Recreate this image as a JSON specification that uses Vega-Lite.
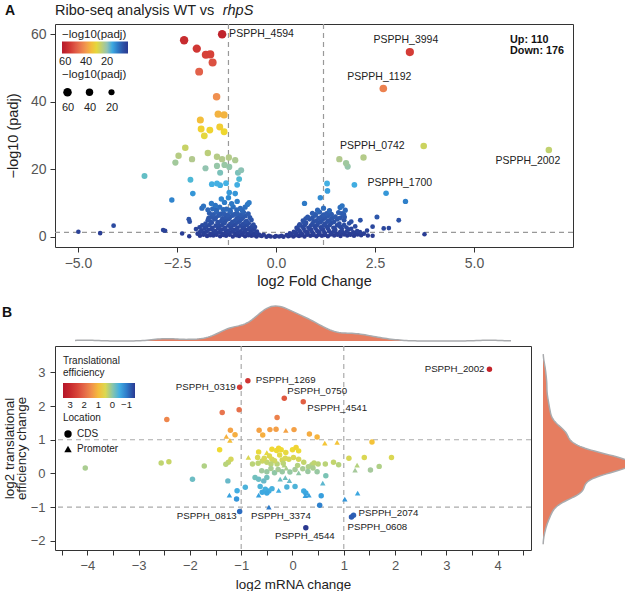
{
"$schema":"https://vega.github.io/schema/vega-lite/v6.json",
"padding":{"left":1,"top":2,"right":0,"bottom":0},
"config":{"font":"Liberation Sans","view":{"stroke":"#333333","strokeWidth":1},
"axis":{"grid":false,"domain":false,"tickColor":"#333333","tickSize":5,"labelColor":"#555555","titleColor":"#222222","titleFontWeight":"normal","labelPadding":3,"labelFont":"Liberation Sans","titleFont":"Liberation Sans"},
"legend":{"padding":0,"titleFontWeight":"normal","titleColor":"#222222","labelColor":"#222222","symbolBaseFillColor":"black","gradientStrokeWidth":0},
"style":{"guide-label":{"lineHeight":31}},
"title":{"font":"Liberation Sans","color":"#222222"}},
"resolve":{"scale":{"color":"independent","size":"independent","shape":"independent"},"legend":{"color":"independent","size":"independent","shape":"independent"}},
"datasets":{
"volcano":[
{"fc":-1.36,"p":60.0,"lab":"PSPPH_4594"},{"fc":3.38,"p":54.7,"lab":"PSPPH_3994"},{"fc":2.71,"p":43.9,"lab":"PSPPH_1192"},{"fc":3.73,"p":26.9,"lab":"PSPPH_0742"},{"fc":6.89,"p":25.7,"lab":"PSPPH_2002"},{"fc":1.98,"p":15.4,"lab":"PSPPH_1700"},
{"fc":-2.32,"p":58.2},{"fc":-2.0,"p":55.7},{"fc":-1.77,"p":53.9},{"fc":-1.66,"p":54.0},{"fc":-1.6,"p":51.6},{"fc":-1.94,"p":48.9},{"fc":-1.5,"p":41.5},{"fc":-1.46,"p":36.3},{"fc":-1.31,"p":36.1},{"fc":-1.91,"p":34.6},{"fc":-1.89,"p":31.9},{"fc":-1.67,"p":31.6},{"fc":-1.81,"p":29.9},{"fc":-1.42,"p":32.5},{"fc":-1.31,"p":31.1},
{"fc":-2.29,"p":26.4},{"fc":-2.46,"p":24.0},{"fc":-2.54,"p":22.0},{"fc":-2.12,"p":23.0},{"fc":-1.72,"p":24.8},{"fc":-1.49,"p":23.7},{"fc":-1.36,"p":23.0},{"fc":-1.19,"p":23.5},{"fc":-1.03,"p":22.7},{"fc":-1.78,"p":20.3},{"fc":-1.49,"p":21.0},{"fc":-1.3,"p":21.3},{"fc":-1.18,"p":20.7},{"fc":-1.41,"p":19.0},{"fc":-0.96,"p":19.0},{"fc":-0.88,"p":19.7},{"fc":-3.32,"p":18.0},{"fc":-2.16,"p":16.9},{"fc":-1.62,"p":15.6},{"fc":-1.49,"p":15.8},{"fc":-1.41,"p":15.3},{"fc":-1.26,"p":15.9},{"fc":-0.98,"p":15.4},{"fc":-0.93,"p":17.1},{"fc":-2.1,"p":12.8},{"fc":-1.18,"p":13.1},{"fc":-1.03,"p":12.8},{"fc":-2.63,"p":10.9},
{"fc":1.6,"p":23.0},{"fc":1.77,"p":21.8},{"fc":1.81,"p":20.8},{"fc":2.21,"p":23.5},{"fc":1.29,"p":15.8},{"fc":1.3,"p":13.6},{"fc":2.78,"p":12.9},{"fc":3.27,"p":10.5},{"fc":1.12,"p":11.6},{"fc":3.75,"p":0.8},
{"fc":-4.99,"p":1.5},{"fc":-4.44,"p":1.1},{"fc":-4.1,"p":3.3},{"fc":-2.85,"p":2.0},{"fc":-2.8,"p":1.8},{"fc":-2.37,"p":1.0},{"fc":-2.19,"p":0.2},{"fc":-2.2,"p":5.2},{"fc":-2.18,"p":4.5},{"fc":-2.02,"p":2.3},
{"fc":1.71,"p":6.7},{"fc":1.9,"p":4.5},{"fc":2.13,"p":4.9},{"fc":2.55,"p":5.9},{"fc":2.44,"p":3.0},{"fc":2.72,"p":2.5},{"fc":2.85,"p":2.6},{"fc":3.1,"p":4.9},{"fc":2.44,"p":0.3},{"fc":1.73,"p":5.9},{"fc":1.67,"p":6.9},
{"fc":-1.92,"p":0.35},{"fc":-1.74,"p":0.22},{"fc":-1.58,"p":0.41},{"fc":-1.41,"p":0.18},{"fc":-1.26,"p":0.33},{"fc":-1.09,"p":0.12},{"fc":-0.93,"p":0.28},{"fc":-0.78,"p":0.15},{"fc":-0.62,"p":0.31},{"fc":-0.49,"p":0.1},{"fc":-0.36,"p":0.22},{"fc":-0.24,"p":0.05},{"fc":-0.13,"p":0.14},{"fc":-0.03,"p":0.03},{"fc":0.08,"p":0.12},{"fc":0.19,"p":0.06},{"fc":0.31,"p":0.2},{"fc":0.44,"p":0.09},{"fc":0.58,"p":0.26},{"fc":0.72,"p":0.14},{"fc":0.87,"p":0.3},{"fc":1.02,"p":0.18},{"fc":1.16,"p":0.36},{"fc":1.31,"p":0.21},{"fc":1.47,"p":0.4},{"fc":1.63,"p":0.25},{"fc":1.8,"p":0.43},{"fc":1.97,"p":0.3},{"fc":2.15,"p":0.45},{"fc":2.32,"p":0.38},
{"fc":-1.83,"p":0.6},{"fc":-1.66,"p":0.5},{"fc":-1.5,"p":0.65},{"fc":-1.33,"p":0.55},{"fc":-1.17,"p":0.62},{"fc":-1.0,"p":0.5},{"fc":-0.85,"p":0.6},{"fc":-0.7,"p":0.45},{"fc":-0.55,"p":0.5},{"fc":-0.4,"p":0.38},{"fc":-0.18,"p":0.3},{"fc":0.0,"p":0.25},{"fc":0.14,"p":0.3},{"fc":0.36,"p":0.4},{"fc":0.5,"p":0.5},{"fc":0.64,"p":0.45},{"fc":0.79,"p":0.6},{"fc":0.94,"p":0.52},{"fc":1.08,"p":0.65},{"fc":1.23,"p":0.55},{"fc":1.38,"p":0.7},{"fc":1.55,"p":0.6},{"fc":1.72,"p":0.72},{"fc":1.88,"p":0.6},{"fc":2.06,"p":0.7},
{"fc":-1.98,"p":0.95},{"fc":-1.82,"p":1.1},{"fc":-1.66,"p":0.85},{"fc":-1.5,"p":1.15},{"fc":-1.35,"p":0.9},{"fc":-1.19,"p":1.2},{"fc":-1.03,"p":0.88},{"fc":-0.87,"p":1.05},{"fc":-0.72,"p":0.82},{"fc":-0.57,"p":1.0},{"fc":-0.43,"p":0.7},{"fc":-0.31,"p":0.6},{"fc":0.27,"p":0.55},{"fc":0.38,"p":0.75},{"fc":0.52,"p":0.95},{"fc":0.66,"p":0.8},{"fc":0.8,"p":1.1},{"fc":0.95,"p":0.85},{"fc":1.1,"p":1.15},{"fc":1.24,"p":0.9},{"fc":1.39,"p":1.2},{"fc":1.54,"p":0.92},{"fc":1.7,"p":1.12},{"fc":1.86,"p":0.88},{"fc":2.02,"p":1.05},{"fc":2.22,"p":0.95},
{"fc":-1.92,"p":1.4},{"fc":-1.75,"p":1.5},{"fc":-1.58,"p":1.3},{"fc":-1.42,"p":1.45},{"fc":-1.27,"p":1.35},{"fc":-1.11,"p":1.5},{"fc":-0.96,"p":1.3},{"fc":-0.8,"p":1.45},{"fc":-0.65,"p":1.3},{"fc":-0.5,"p":1.2},{"fc":0.35,"p":1.05},{"fc":0.48,"p":1.25},{"fc":0.62,"p":1.35},{"fc":0.77,"p":1.4},{"fc":0.92,"p":1.3},{"fc":1.07,"p":1.45},{"fc":1.22,"p":1.35},{"fc":1.46,"p":1.5},{"fc":1.62,"p":1.4},{"fc":1.78,"p":1.5},{"fc":1.95,"p":1.35},{"fc":2.12,"p":1.4},
{"fc":-1.88,"p":1.9},{"fc":-1.7,"p":2.1},{"fc":-1.53,"p":1.7},{"fc":-1.37,"p":2.15},{"fc":-1.21,"p":1.8},{"fc":-1.05,"p":2.05},{"fc":-0.9,"p":1.65},{"fc":-0.76,"p":2.0},{"fc":-0.62,"p":1.75},{"fc":-0.48,"p":1.55},{"fc":0.45,"p":1.5},{"fc":0.59,"p":1.85},{"fc":0.74,"p":1.6},{"fc":0.89,"p":2.05},{"fc":1.04,"p":1.75},{"fc":1.19,"p":2.1},{"fc":1.34,"p":1.7},{"fc":1.5,"p":2.0},{"fc":1.66,"p":1.78},{"fc":1.83,"p":2.15},{"fc":2.05,"p":1.7},{"fc":2.3,"p":1.85},
{"fc":-1.8,"p":2.45},{"fc":-1.62,"p":2.3},{"fc":-1.46,"p":2.5},{"fc":-1.3,"p":2.35},{"fc":-1.14,"p":2.5},{"fc":-0.98,"p":2.3},{"fc":-0.84,"p":2.45},{"fc":-0.69,"p":2.3},{"fc":-0.56,"p":2.2},{"fc":0.55,"p":2.2},{"fc":0.7,"p":2.4},{"fc":0.85,"p":2.3},{"fc":1.0,"p":2.45},{"fc":1.15,"p":2.3},{"fc":1.31,"p":2.5},{"fc":1.48,"p":2.35},{"fc":1.66,"p":2.45},{"fc":1.9,"p":2.4},
{"fc":-1.93,"p":2.8},{"fc":-1.76,"p":3.1},{"fc":-1.6,"p":2.7},{"fc":-1.44,"p":3.05},{"fc":-1.28,"p":2.65},{"fc":-1.12,"p":3.15},{"fc":-0.97,"p":2.75},{"fc":-0.81,"p":3.0},{"fc":-0.66,"p":2.6},{"fc":-0.53,"p":2.9},{"fc":0.52,"p":2.65},{"fc":0.67,"p":3.0},{"fc":0.82,"p":2.7},{"fc":0.98,"p":3.1},{"fc":1.13,"p":2.8},{"fc":1.28,"p":3.05},{"fc":1.45,"p":2.7},{"fc":1.62,"p":3.0},{"fc":1.78,"p":2.75},{"fc":2.0,"p":3.1},
{"fc":-1.86,"p":3.4},{"fc":-1.68,"p":3.5},{"fc":-1.52,"p":3.3},{"fc":-1.36,"p":3.5},{"fc":-1.2,"p":3.35},{"fc":-1.04,"p":3.55},{"fc":-0.89,"p":3.3},{"fc":-0.74,"p":3.45},{"fc":-0.6,"p":3.2},{"fc":0.58,"p":3.3},{"fc":0.73,"p":3.5},{"fc":0.88,"p":3.35},{"fc":1.04,"p":3.5},{"fc":1.2,"p":3.3},{"fc":1.36,"p":3.5},{"fc":1.54,"p":3.4},{"fc":1.72,"p":3.45},
{"fc":-1.78,"p":3.9},{"fc":-1.62,"p":4.2},{"fc":-1.46,"p":3.7},{"fc":-1.3,"p":4.1},{"fc":-1.14,"p":3.8},{"fc":-0.98,"p":4.25},{"fc":-0.83,"p":3.75},{"fc":-0.69,"p":4.0},{"fc":-0.57,"p":3.6},{"fc":0.6,"p":3.7},{"fc":0.76,"p":4.1},{"fc":0.92,"p":3.8},{"fc":1.08,"p":4.2},{"fc":1.24,"p":3.85},{"fc":1.41,"p":4.15},{"fc":1.6,"p":3.9},{"fc":1.85,"p":4.0},
{"fc":-1.65,"p":4.5},{"fc":-1.47,"p":4.35},{"fc":-1.28,"p":4.6},{"fc":-1.1,"p":4.4},{"fc":-0.92,"p":4.55},{"fc":-0.77,"p":4.4},{"fc":0.7,"p":4.4},{"fc":0.95,"p":4.5},{"fc":1.13,"p":4.4},{"fc":1.3,"p":4.55},{"fc":1.47,"p":4.45},
{"fc":-1.72,"p":4.9},{"fc":-1.55,"p":5.2},{"fc":-1.38,"p":4.7},{"fc":-1.2,"p":5.25},{"fc":-1.03,"p":4.8},{"fc":-0.88,"p":5.15},{"fc":-0.74,"p":4.65},{"fc":-0.62,"p":5.0},{"fc":0.68,"p":4.8},{"fc":0.85,"p":5.2},{"fc":1.02,"p":4.75},{"fc":1.18,"p":5.1},{"fc":1.35,"p":4.85},{"fc":1.55,"p":5.2},{"fc":1.72,"p":4.9},
{"fc":-1.7,"p":5.5},{"fc":-1.52,"p":5.65},{"fc":-1.35,"p":5.45},{"fc":-1.17,"p":5.7},{"fc":-0.99,"p":5.45},{"fc":-0.84,"p":5.6},{"fc":0.75,"p":5.4},{"fc":0.92,"p":5.6},{"fc":1.08,"p":5.5},{"fc":1.25,"p":5.65},{"fc":1.42,"p":5.5},{"fc":1.62,"p":5.6},
{"fc":-1.63,"p":5.9},{"fc":-1.45,"p":6.3},{"fc":-1.27,"p":5.8},{"fc":-1.1,"p":6.35},{"fc":-0.93,"p":5.85},{"fc":-0.78,"p":6.2},{"fc":-0.66,"p":5.75},{"fc":0.8,"p":5.9},{"fc":0.98,"p":6.3},{"fc":1.15,"p":5.85},{"fc":1.32,"p":6.25},{"fc":1.5,"p":5.95},
{"fc":-1.58,"p":6.6},{"fc":-1.4,"p":6.75},{"fc":-1.22,"p":6.5},{"fc":-1.04,"p":6.7},{"fc":-0.88,"p":6.55},{"fc":1.0,"p":6.6},{"fc":1.2,"p":6.5},{"fc":1.4,"p":6.7},
{"fc":-1.68,"p":7.0},{"fc":-1.5,"p":7.4},{"fc":-1.32,"p":6.9},{"fc":-1.15,"p":7.45},{"fc":-0.98,"p":6.95},{"fc":-0.82,"p":7.3},{"fc":-0.7,"p":6.8},{"fc":0.92,"p":7.0},{"fc":1.1,"p":7.35},{"fc":1.28,"p":6.9},{"fc":1.58,"p":7.2},{"fc":1.75,"p":7.9},
{"fc":-1.72,"p":8.0},{"fc":-1.5,"p":7.9},{"fc":-1.33,"p":8.05},{"fc":-1.16,"p":7.95},{"fc":-0.99,"p":8.0},{"fc":-0.85,"p":7.8},{"fc":1.05,"p":7.9},{"fc":1.35,"p":7.8},
{"fc":-1.87,"p":8.5},{"fc":-1.83,"p":9.1},{"fc":-1.6,"p":8.3},{"fc":-1.42,"p":8.8},{"fc":-1.25,"p":8.2},{"fc":-1.08,"p":8.9},{"fc":-0.9,"p":8.4},{"fc":-0.78,"p":8.8},{"fc":-0.72,"p":9.6},{"fc":1.2,"p":8.5},{"fc":1.67,"p":9.2},{"fc":1.62,"p":8.7},
{"fc":-1.63,"p":9.9},{"fc":-1.53,"p":9.3},{"fc":-1.3,"p":10.2},{"fc":-1.12,"p":9.8},{"fc":-0.98,"p":10.5},{"fc":-1.38,"p":11.2},{"fc":-1.2,"p":11.6},{"fc":-0.68,"p":10.1},{"fc":0.72,"p":9.9}
],
"te":[
{"mrna":3.84,"te":3.09,"loc":"CDS","lab":"PSPPH_2002"},{"mrna":-0.87,"te":2.75,"loc":"CDS","lab":"PSPPH_1269"},{"mrna":-1.03,"te":2.56,"loc":"CDS","lab":"PSPPH_0319"},{"mrna":-0.16,"te":2.23,"loc":"CDS","lab":"PSPPH_0750"},{"mrna":0.21,"te":2.13,"loc":"CDS","lab":"PSPPH_4541"},{"mrna":-1.03,"te":-1.13,"loc":"CDS","lab":"PSPPH_0813"},{"mrna":-0.46,"te":-1.0,"loc":"Promoter","lab":"PSPPH_3374"},{"mrna":0.26,"te":-1.61,"loc":"CDS","lab":"PSPPH_4544"},{"mrna":1.19,"te":-1.24,"loc":"CDS","lab":"PSPPH_2074"},{"mrna":1.15,"te":-1.29,"loc":"CDS","lab":"PSPPH_0608"},
{"mrna":-4.04,"te":0.16,"loc":"CDS"},{"mrna":-2.45,"te":1.6,"loc":"CDS"},{"mrna":-2.56,"te":0.31,"loc":"CDS"},{"mrna":-2.41,"te":0.35,"loc":"CDS"},{"mrna":-1.72,"te":0.22,"loc":"CDS"},{"mrna":-1.95,"te":-0.17,"loc":"CDS"},{"mrna":-1.42,"te":0.7,"loc":"CDS"},{"mrna":-1.37,"te":1.81,"loc":"CDS"},{"mrna":-1.04,"te":1.89,"loc":"CDS"},{"mrna":-1.21,"te":1.28,"loc":"CDS"},{"mrna":-1.12,"te":1.15,"loc":"CDS"},{"mrna":-1.29,"te":1.1,"loc":"Promoter"},{"mrna":-1.22,"te":0.98,"loc":"Promoter"},{"mrna":-1.2,"te":0.42,"loc":"CDS"},{"mrna":-1.25,"te":0.33,"loc":"CDS"},{"mrna":-1.3,"te":0.27,"loc":"CDS"},{"mrna":-1.26,"te":-0.22,"loc":"CDS"},{"mrna":-1.08,"te":-0.51,"loc":"CDS"},{"mrna":-1.23,"te":-0.64,"loc":"Promoter"},{"mrna":-1.09,"te":-0.76,"loc":"CDS"},{"mrna":-0.92,"te":-0.41,"loc":"CDS"},{"mrna":-0.86,"te":0.48,"loc":"Promoter"},{"mrna":-0.78,"te":0.28,"loc":"CDS"},
{"mrna":-0.66,"te":0.64,"loc":"CDS"},{"mrna":-0.68,"te":0.47,"loc":"CDS"},{"mrna":-0.59,"te":0.37,"loc":"CDS"},{"mrna":-0.67,"te":0.3,"loc":"CDS"},{"mrna":-0.65,"te":1.28,"loc":"CDS"},{"mrna":-0.58,"te":1.14,"loc":"CDS"},{"mrna":-0.44,"te":1.3,"loc":"CDS"},{"mrna":-0.32,"te":1.31,"loc":"CDS"},{"mrna":-0.3,"te":1.66,"loc":"CDS"},{"mrna":-0.13,"te":1.28,"loc":"Promoter"},{"mrna":0.03,"te":1.3,"loc":"CDS"},{"mrna":0.33,"te":1.17,"loc":"CDS"},{"mrna":0.48,"te":1.08,"loc":"CDS"},{"mrna":0.63,"te":0.9,"loc":"Promoter"},{"mrna":0.87,"te":0.92,"loc":"Promoter"},{"mrna":1.55,"te":0.93,"loc":"CDS"},{"mrna":1.4,"te":0.47,"loc":"CDS"},{"mrna":1.93,"te":0.47,"loc":"CDS"},{"mrna":1.69,"te":0.21,"loc":"CDS"},{"mrna":1.52,"te":0.1,"loc":"CDS"},{"mrna":1.26,"te":0.25,"loc":"Promoter"},{"mrna":1.22,"te":0.1,"loc":"Promoter"},{"mrna":0.9,"te":0.26,"loc":"CDS"},{"mrna":0.38,"te":0.26,"loc":"CDS"},{"mrna":0.5,"te":0.28,"loc":"CDS"},{"mrna":0.48,"te":0.05,"loc":"CDS"},{"mrna":0.65,"te":-0.07,"loc":"CDS"},{"mrna":0.59,"te":-0.29,"loc":"Promoter"},{"mrna":0.56,"te":-0.66,"loc":"CDS"},{"mrna":0.53,"te":-0.94,"loc":"CDS"},{"mrna":1.02,"te":-0.76,"loc":"Promoter"},{"mrna":1.27,"te":-0.58,"loc":"Promoter"},
{"mrna":-0.5,"te":0.62,"loc":"Promoter"},{"mrna":-0.4,"te":0.72,"loc":"CDS"},{"mrna":-0.31,"te":0.68,"loc":"CDS"},{"mrna":-0.27,"te":0.75,"loc":"CDS"},{"mrna":-0.22,"te":0.7,"loc":"CDS"},{"mrna":-0.13,"te":0.62,"loc":"CDS"},{"mrna":0.0,"te":0.7,"loc":"CDS"},{"mrna":0.07,"te":0.77,"loc":"CDS"},{"mrna":0.12,"te":0.67,"loc":"CDS"},{"mrna":0.02,"te":0.47,"loc":"CDS"},{"mrna":-0.07,"te":0.42,"loc":"CDS"},{"mrna":-0.5,"te":0.33,"loc":"CDS"},{"mrna":-0.4,"te":0.42,"loc":"CDS"},{"mrna":-0.3,"te":0.28,"loc":"CDS"},{"mrna":-0.2,"te":0.4,"loc":"CDS"},{"mrna":-0.14,"te":0.45,"loc":"CDS"},{"mrna":0.12,"te":0.42,"loc":"CDS"},{"mrna":0.22,"te":0.33,"loc":"CDS"},{"mrna":0.31,"te":0.2,"loc":"CDS"},{"mrna":0.42,"te":0.31,"loc":"CDS"},{"mrna":0.64,"te":0.28,"loc":"CDS"},{"mrna":0.8,"te":0.33,"loc":"CDS"},{"mrna":1.1,"te":0.45,"loc":"CDS"},
{"mrna":-0.45,"te":0.52,"loc":"CDS"},{"mrna":-0.35,"te":0.38,"loc":"CDS"},{"mrna":-0.25,"te":0.55,"loc":"CDS"},{"mrna":-0.55,"te":0.45,"loc":"CDS"},{"mrna":-0.42,"te":0.28,"loc":"CDS"},{"mrna":-0.18,"te":0.3,"loc":"CDS"},
{"mrna":-0.6,"te":0.08,"loc":"CDS"},{"mrna":-0.5,"te":0.05,"loc":"CDS"},{"mrna":-0.42,"te":0.15,"loc":"CDS"},{"mrna":-0.35,"te":0.02,"loc":"CDS"},{"mrna":-0.28,"te":0.12,"loc":"CDS"},{"mrna":-0.2,"te":0.05,"loc":"CDS"},{"mrna":-0.12,"te":0.16,"loc":"Promoter"},{"mrna":-0.05,"te":0.04,"loc":"CDS"},{"mrna":0.05,"te":0.12,"loc":"CDS"},{"mrna":0.12,"te":0.02,"loc":"Promoter"},{"mrna":0.2,"te":0.14,"loc":"CDS"},{"mrna":0.3,"te":0.06,"loc":"CDS"},{"mrna":0.4,"te":0.16,"loc":"CDS"},{"mrna":0.1,"te":0.24,"loc":"CDS"},{"mrna":-0.16,"te":0.25,"loc":"Promoter"},
{"mrna":-0.73,"te":-0.12,"loc":"CDS"},{"mrna":-0.66,"te":-0.17,"loc":"CDS"},{"mrna":-0.56,"te":-0.22,"loc":"CDS"},{"mrna":-0.5,"te":-0.12,"loc":"CDS"},{"mrna":-0.24,"te":-0.17,"loc":"Promoter"},{"mrna":-0.14,"te":-0.12,"loc":"Promoter"},{"mrna":-0.06,"te":-0.21,"loc":"Promoter"},{"mrna":-0.63,"te":-0.39,"loc":"CDS"},{"mrna":-0.53,"te":-0.47,"loc":"CDS"},{"mrna":-0.46,"te":-0.52,"loc":"CDS"},{"mrna":-0.4,"te":-0.45,"loc":"CDS"},{"mrna":-0.59,"te":-0.56,"loc":"CDS"},{"mrna":-0.5,"te":-0.58,"loc":"CDS"},{"mrna":-0.66,"te":-0.64,"loc":"Promoter"},{"mrna":-0.27,"te":-0.5,"loc":"Promoter"},{"mrna":-0.11,"te":-0.4,"loc":"CDS"},{"mrna":0.05,"te":-0.39,"loc":"CDS"},{"mrna":0.22,"te":-0.52,"loc":"CDS"},{"mrna":0.26,"te":-0.58,"loc":"CDS"},{"mrna":0.32,"te":-0.64,"loc":"Promoter"},{"mrna":0.25,"te":-0.66,"loc":"Promoter"}
]
},
"spacing":15,
"vconcat":[
{"width":518,"height":223,
"layer":[
{"data":{"values":[{"v":-1.2},{"v":1.2}]},"mark":{"type":"rule","strokeDash":[5,4],"color":"#999999","strokeWidth":1.2},"encoding":{"x":{"field":"v","type":"quantitative"}}},
{"data":{"values":[{"h":1.3}]},"mark":{"type":"rule","strokeDash":[5,4],"color":"#999999","strokeWidth":1.2},"encoding":{"y":{"field":"h","type":"quantitative"}}},
{"data":{"name":"volcano"},"mark":{"type":"point","filled":true,"opacity":1},
"encoding":{
"x":{"field":"fc","type":"quantitative","scale":{"domain":[-5.58,7.5],"nice":false,"zero":false},"axis":{"title":"log2 Fold Change","values":[-5,-2.5,0,2.5,5],"format":".1f","labelFontSize":14,"titleFontSize":14.5,"labelPadding":4,"titlePadding":4}},
"y":{"field":"p","type":"quantitative","scale":{"domain":[-3,63],"nice":false,"zero":false},"axis":{"title":"−log10 (padj)","values":[0,20,40,60],"labelFontSize":14,"titleFontSize":14.5,"labelPadding":4,"titlePadding":10}},
"color":{"field":"p","type":"quantitative","scale":{"domain":[63,60,55,49,42,36,31,27,23,20,16,12,7,0],"range":["#B71A2A","#C0232C","#D33A35","#E2604A","#EF8D52","#F3B540","#EED82E","#CCD35E","#B2C98E","#93C3B3","#45B2E3","#348FD4","#2E5DB0","#2A3990"]},
"legend":{"title":"−log10(padj)","orient":"none","legendX":7,"legendY":5,"direction":"horizontal","gradientLength":66,"gradientThickness":12,"values":[60,40,20],"titleFontSize":11.5,"labelFontSize":11,"titlePadding":1,"labelOffset":2}},
"size":{"field":"p","type":"quantitative","scale":{"domain":[0,63],"range":[20,75]},
"legend":{"title":"−log10(padj)","orient":"none","legendX":7,"legendY":45,"direction":"horizontal","values":[60,40,20],"titleFontSize":11.5,"labelFontSize":11,"symbolFillColor":"black","symbolStrokeWidth":0,"labelAlign":"center","labelBaseline":"line-top","labelOffset":-5,"columnPadding":8,"titlePadding":6}},
"order":{"field":"p","type":"quantitative"}}},
{"data":{"values":[{"x":5.91,"y":58.3,"t":"Up: 110"},{"x":5.91,"y":55.0,"t":"Down: 176"}]},"mark":{"type":"text","align":"left","baseline":"middle","fontSize":10.8,"fontWeight":"bold","color":"#111111"},"encoding":{"x":{"field":"x","type":"quantitative"},"y":{"field":"y","type":"quantitative"},"text":{"field":"t"}}},
{"data":{"values":[{"x":-5.58,"y":65.66,"t":"Ribo-seq analysis WT vs"}]},"mark":{"type":"text","align":"left","baseline":"alphabetic","fontSize":14.5,"color":"#222222"},"encoding":{"x":{"field":"x","type":"quantitative"},"y":{"field":"y","type":"quantitative"},"text":{"field":"t"}}},
{"data":{"values":[{"x":-1.345,"y":65.66,"t":"rhpS"}]},"mark":{"type":"text","align":"left","baseline":"alphabetic","fontSize":14.5,"fontStyle":"italic","color":"#222222"},"encoding":{"x":{"field":"x","type":"quantitative"},"y":{"field":"y","type":"quantitative"},"text":{"field":"t"}}},
{"data":{"values":[{"x":-6.84,"y":65.66,"t":"A"}]},"mark":{"type":"text","align":"left","baseline":"alphabetic","fontSize":14,"fontWeight":"bold","color":"#111111"},"encoding":{"x":{"field":"x","type":"quantitative"},"y":{"field":"y","type":"quantitative"},"text":{"field":"t"}}},
{"data":{"name":"volcano"},"transform":[{"filter":"datum.lab == 'PSPPH_4594'"}],"mark":{"type":"text","align":"left","baseline":"middle","dx":7,"fontSize":10.5,"color":"#222222"},"encoding":{"x":{"field":"fc","type":"quantitative"},"y":{"field":"p","type":"quantitative"},"text":{"field":"lab"}}},
{"data":{"name":"volcano"},"transform":[{"filter":"datum.lab == 'PSPPH_3994' || datum.lab == 'PSPPH_1192'"}],"mark":{"type":"text","align":"center","baseline":"middle","dx":-4,"dy":-12,"fontSize":10.5,"color":"#222222"},"encoding":{"x":{"field":"fc","type":"quantitative"},"y":{"field":"p","type":"quantitative"},"text":{"field":"lab"}}},
{"data":{"name":"volcano"},"transform":[{"filter":"datum.lab == 'PSPPH_0742'"}],"mark":{"type":"text","align":"right","baseline":"middle","dx":-19,"fontSize":10.5,"color":"#222222"},"encoding":{"x":{"field":"fc","type":"quantitative"},"y":{"field":"p","type":"quantitative"},"text":{"field":"lab"}}},
{"data":{"name":"volcano"},"transform":[{"filter":"datum.lab == 'PSPPH_2002'"}],"mark":{"type":"text","align":"center","baseline":"middle","dx":-21,"dy":11,"fontSize":10.5,"color":"#222222"},"encoding":{"x":{"field":"fc","type":"quantitative"},"y":{"field":"p","type":"quantitative"},"text":{"field":"lab"}}},
{"data":{"name":"volcano"},"transform":[{"filter":"datum.lab == 'PSPPH_1700'"}],"mark":{"type":"text","align":"left","baseline":"middle","dx":13,"dy":-2,"fontSize":10.5,"color":"#222222"},"encoding":{"x":{"field":"fc","type":"quantitative"},"y":{"field":"p","type":"quantitative"},"text":{"field":"lab"}}}
]},
{"spacing":0,
"resolve":{"scale":{"color":"independent","shape":"independent"}},
"vconcat":[
{"width":476,"height":35,"view":{"stroke":null},
"title":{"text":"B","orient":"left","angle":0,"anchor":"end","frame":"group","baseline":"top","align":"left","offset":43,"fontSize":14,"fontWeight":"bold","color":"#111111"},
"data":{"name":"te"},
"transform":[{"density":"mrna","bandwidth":0.24,"extent":[-4.24,4.26],"steps":200}],
"mark":{"type":"area","color":"#E67D60","opacity":1,"line":{"color":"#A9ABAE","strokeWidth":1.5}},
"encoding":{"x":{"field":"value","type":"quantitative","scale":{"domain":[-4.63,4.65],"nice":false,"zero":false},"axis":null},
"y":{"field":"density","type":"quantitative","scale":{"zero":true,"nice":false},"axis":null}}},
{"spacing":7,"hconcat":[
{"width":476,"height":204,
"data":{"name":"te"},
"resolve":{"axis":{"x":"independent"}},
"layer":[
{"data":{"values":[{"v":-1},{"v":1}]},"mark":{"type":"rule","strokeDash":[5,4],"color":"#AAAAAA","strokeWidth":1.2},"encoding":{"x":{"field":"v","type":"quantitative","axis":{"orient":"bottom","values":[-4.5,-3.5,-2.5,-1.5,-0.5,0.5,1.5,2.5,3.5,4.5],"labels":false,"title":null,"domain":false,"grid":false}}}},
{"data":{"values":[{"h":-1},{"h":1}]},"mark":{"type":"rule","strokeDash":[5,4],"color":"#AAAAAA","strokeWidth":1.2},"encoding":{"y":{"field":"h","type":"quantitative"}}},
{"mark":{"type":"point","filled":true,"opacity":1,"size":30},
"encoding":{
"x":{"field":"mrna","type":"quantitative","scale":{"domain":[-4.63,4.65],"nice":false,"zero":false},"axis":{"orient":"bottom","title":"log2 mRNA change","values":[-4,-3,-2,-1,0,1,2,3,4],"format":"d","labelFontSize":13,"titleFontSize":13.4,"labelPadding":4,"titlePadding":5}},
"y":{"field":"te","type":"quantitative","scale":{"domain":[-2.27,3.78],"nice":false,"zero":false},"axis":{"title":["log2 translational","efficiency change"],"values":[-2,-1.5,-1,-0.5,0,0.5,1,1.5,2,2.5,3,3.5],"labelExpr":"abs(datum.value - round(datum.value)) < 0.001 ? format(datum.value, 'd') : ''","labelOverlap":false,"labelFontSize":13,"titleFontSize":13.4,"titleLineHeight":12,"labelPadding":5,"titlePadding":2}},
"color":{"field":"te","type":"quantitative","scale":{"domain":[3.5,3.1,2.6,2.2,1.8,1.4,1.0,0.7,0.4,0.1,-0.2,-0.5,-0.8,-1.2,-1.6],"range":["#B5162A","#C4232B","#D53C37","#E05A40","#E8764E","#F2974A","#F5BC3C","#EFDA32","#D4D65C","#A6C99C","#6CBAC8","#42AEE2","#3592D8","#2E65BA","#2A3990"]},
"legend":{"title":["Translational","efficiency"],"orient":"none","legendX":8,"legendY":10,"direction":"horizontal","gradientLength":72,"gradientThickness":15,"values":[3,2,1,0,-1],"titleFontSize":10,"labelFontSize":9.5,"titlePadding":5,"labelOffset":2}},
"shape":{"field":"loc","type":"nominal","scale":{"domain":["CDS","Promoter"],"range":["circle","triangle-up"]},
"legend":{"title":"Location","orient":"none","legendX":8,"legendY":67,"titleFontSize":10,"labelFontSize":10,"symbolFillColor":"black","symbolStrokeWidth":0,"symbolSize":55,"rowPadding":5,"titlePadding":6}}}},
{"transform":[{"filter":"datum.lab == 'PSPPH_2002'"}],"mark":{"type":"text","align":"right","baseline":"middle","dx":-5,"fontSize":9.7,"color":"#222222"},"encoding":{"x":{"field":"mrna","type":"quantitative","axis":null},"y":{"field":"te","type":"quantitative"},"text":{"field":"lab"}}},
{"transform":[{"filter":"datum.lab == 'PSPPH_1269'"}],"mark":{"type":"text","align":"left","baseline":"middle","dx":8,"dy":-1,"fontSize":9.7,"color":"#222222"},"encoding":{"x":{"field":"mrna","type":"quantitative","axis":null},"y":{"field":"te","type":"quantitative"},"text":{"field":"lab"}}},
{"transform":[{"filter":"datum.lab == 'PSPPH_0319'"}],"mark":{"type":"text","align":"right","baseline":"middle","dx":-4,"fontSize":9.7,"color":"#222222"},"encoding":{"x":{"field":"mrna","type":"quantitative","axis":null},"y":{"field":"te","type":"quantitative"},"text":{"field":"lab"}}},
{"transform":[{"filter":"datum.lab == 'PSPPH_0750'"}],"mark":{"type":"text","align":"left","baseline":"middle","dx":3,"dy":-7,"fontSize":9.7,"color":"#222222"},"encoding":{"x":{"field":"mrna","type":"quantitative","axis":null},"y":{"field":"te","type":"quantitative"},"text":{"field":"lab"}}},
{"transform":[{"filter":"datum.lab == 'PSPPH_4541'"}],"mark":{"type":"text","align":"left","baseline":"middle","dx":4,"dy":6,"fontSize":9.7,"color":"#222222"},"encoding":{"x":{"field":"mrna","type":"quantitative","axis":null},"y":{"field":"te","type":"quantitative"},"text":{"field":"lab"}}},
{"transform":[{"filter":"datum.lab == 'PSPPH_0813'"}],"mark":{"type":"text","align":"right","baseline":"middle","dx":-3,"dy":4,"fontSize":9.7,"color":"#222222"},"encoding":{"x":{"field":"mrna","type":"quantitative","axis":null},"y":{"field":"te","type":"quantitative"},"text":{"field":"lab"}}},
{"transform":[{"filter":"datum.lab == 'PSPPH_3374'"}],"mark":{"type":"text","align":"center","baseline":"middle","dx":12,"dy":9,"fontSize":9.7,"color":"#222222"},"encoding":{"x":{"field":"mrna","type":"quantitative","axis":null},"y":{"field":"te","type":"quantitative"},"text":{"field":"lab"}}},
{"transform":[{"filter":"datum.lab == 'PSPPH_4544'"}],"mark":{"type":"text","align":"center","baseline":"middle","dx":-1,"dy":8,"fontSize":9.7,"color":"#222222"},"encoding":{"x":{"field":"mrna","type":"quantitative","axis":null},"y":{"field":"te","type":"quantitative"},"text":{"field":"lab"}}},
{"transform":[{"filter":"datum.lab == 'PSPPH_2074'"}],"mark":{"type":"text","align":"left","baseline":"middle","dx":5,"dy":-2,"fontSize":9.7,"color":"#222222"},"encoding":{"x":{"field":"mrna","type":"quantitative","axis":null},"y":{"field":"te","type":"quantitative"},"text":{"field":"lab"}}},
{"transform":[{"filter":"datum.lab == 'PSPPH_0608'"}],"mark":{"type":"text","align":"left","baseline":"middle","dx":-4,"dy":10,"fontSize":9.7,"color":"#222222"},"encoding":{"x":{"field":"mrna","type":"quantitative","axis":null},"y":{"field":"te","type":"quantitative"},"text":{"field":"lab"}}}
]},
{"width":88,"height":204,"view":{"stroke":null},
"data":{"name":"te"},
"transform":[{"density":"te","bandwidth":0.22,"extent":[-2.1,3.54],"steps":200}],
"layer":[
{"mark":{"type":"area","orient":"horizontal","color":"#E67D60","opacity":1},
"encoding":{"y":{"field":"value","type":"quantitative","scale":{"domain":[-2.27,3.78],"nice":false,"zero":false},"axis":null},
"x":{"field":"density","type":"quantitative","scale":{"zero":true,"nice":false},"axis":null,"stack":null}}},
{"mark":{"type":"line","color":"#A9ABAE","strokeWidth":1.5},
"encoding":{"y":{"field":"value","type":"quantitative"},"x":{"field":"density","type":"quantitative"},"order":{"field":"value","type":"quantitative"}}}
]}
]}
]}
]
}
